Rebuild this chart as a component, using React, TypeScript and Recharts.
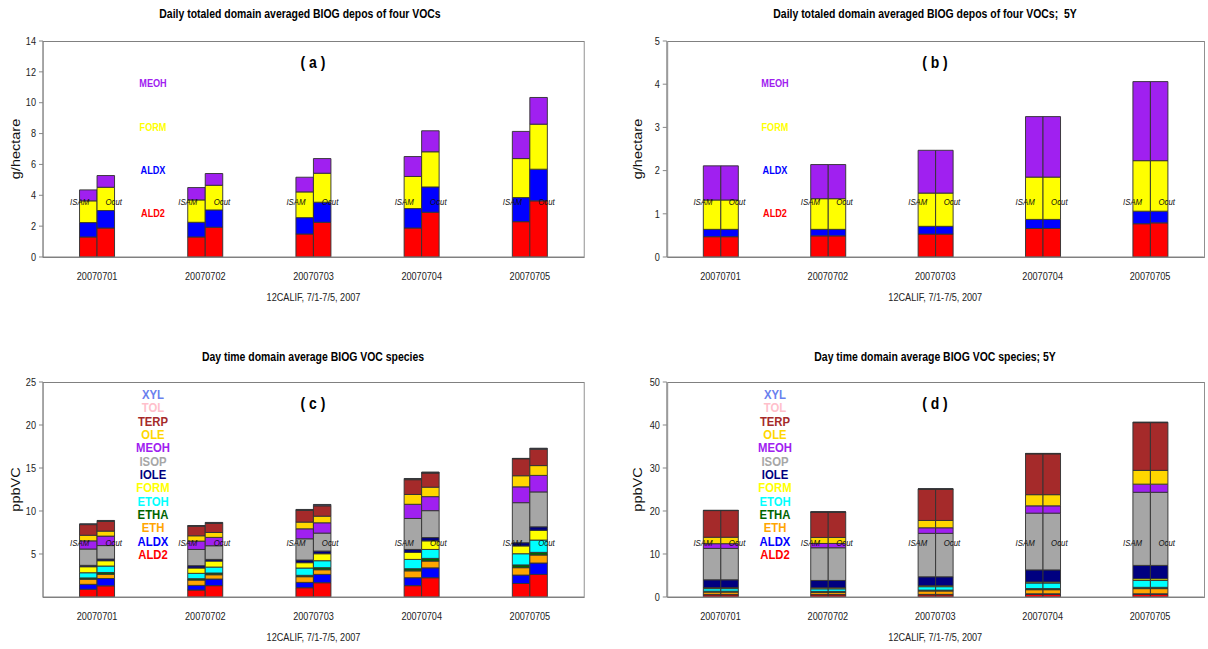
import React from "react";
import { BarChart, Bar, XAxis, YAxis, ReferenceDot } from "recharts";

const FONT = "'Liberation Sans', Arial, sans-serif";
// the source figure is squeezed sideways; draw wider and compress the page
const SQUEEZE = 0.87;
const sx = (v: number) => v / SQUEEZE;

const DATES = ["20070701", "20070702", "20070703", "20070704", "20070705"];

const DEPO_SPECIES = ["ALD2", "ALDX", "FORM", "MEOH"];
const VOC_SPECIES = ["ALD2", "ALDX", "ETH", "ETHA", "ETOH", "FORM", "IOLE", "ISOP", "MEOH", "OLE", "TERP", "TOL", "XYL"];

// rows follow the species order, columns follow DATES
const DEPO_ISAM = [
  [1.3, 1.3, 1.49, 1.88, 2.29],
  [0.93, 0.95, 1.06, 1.26, 1.56],
  [1.41, 1.45, 1.67, 2.08, 2.53],
  [0.71, 0.8, 0.95, 1.29, 1.76],
];
const DEPO_OCUT = [
  [1.88, 1.93, 2.25, 2.9, 3.64],
  [1.13, 1.12, 1.3, 1.64, 2.05],
  [1.51, 1.6, 1.88, 2.28, 2.92],
  [0.76, 0.76, 0.95, 1.36, 1.73],
];

const DEPO5Y_ISAM = [
  [0.47, 0.49, 0.53, 0.66, 0.77],
  [0.17, 0.15, 0.18, 0.21, 0.29],
  [0.68, 0.71, 0.77, 0.98, 1.17],
  [0.79, 0.79, 0.99, 1.4, 1.83],
];
const DEPO5Y_OCUT = [
  [0.47, 0.49, 0.53, 0.66, 0.79],
  [0.17, 0.15, 0.18, 0.21, 0.27],
  [0.68, 0.71, 0.77, 0.98, 1.17],
  [0.79, 0.79, 0.99, 1.4, 1.83],
];

const VOC_ISAM = [
  [0.9, 0.81, 1.08, 1.32, 1.57],
  [0.57, 0.54, 0.62, 0.92, 0.98],
  [0.6, 0.62, 0.66, 0.8, 0.86],
  [0.15, 0.16, 0.16, 0.25, 0.32],
  [0.6, 0.62, 0.85, 1.08, 1.3],
  [0.7, 0.62, 0.62, 0.82, 0.91],
  [0.16, 0.27, 0.31, 0.34, 0.37],
  [1.9, 1.89, 2.47, 3.6, 4.66],
  [0.95, 0.97, 1.16, 1.65, 1.84],
  [0.65, 0.62, 0.78, 1.14, 1.29],
  [1.24, 1.12, 1.35, 1.72, 1.98],
  [0.04, 0.03, 0.06, 0.07, 0.02],
  [0.04, 0.03, 0.06, 0.07, 0.02],
];
const VOC_OCUT = [
  [1.3, 1.32, 1.66, 2.24, 2.63],
  [0.85, 0.77, 0.97, 1.15, 1.32],
  [0.5, 0.5, 0.54, 0.79, 0.93],
  [0.2, 0.2, 0.24, 0.31, 0.31],
  [0.75, 0.69, 0.81, 1.04, 1.43],
  [0.62, 0.7, 0.81, 1.0, 1.14],
  [0.19, 0.19, 0.31, 0.38, 0.4],
  [1.57, 1.59, 2.09, 3.13, 4.06],
  [1.1, 0.97, 1.2, 1.63, 1.92],
  [0.58, 0.57, 0.77, 1.1, 1.14],
  [1.12, 1.05, 1.2, 1.64, 1.9],
  [0.06, 0.06, 0.08, 0.06, 0.06],
  [0.06, 0.06, 0.08, 0.06, 0.06],
];

const VOC5Y_ISAM = [
  [0.5, 0.5, 0.5, 0.6, 0.6],
  [0.1, 0.1, 0.1, 0.15, 0.15],
  [0.55, 0.5, 0.8, 0.95, 1.2],
  [0.2, 0.2, 0.2, 0.25, 0.3],
  [0.6, 0.6, 0.8, 1.3, 1.6],
  [0.25, 0.25, 0.25, 0.25, 0.4],
  [1.8, 1.7, 2.05, 2.8, 3.1],
  [7.3, 7.6, 10.1, 13.2, 17.0],
  [1.1, 1.0, 1.3, 1.7, 1.9],
  [1.5, 1.4, 1.7, 2.6, 3.2],
  [6.2, 5.9, 7.3, 9.5, 11.1],
  [0.03, 0.03, 0.03, 0.05, 0.05],
  [0.02, 0.02, 0.02, 0.05, 0.05],
];
const VOC5Y_OCUT = VOC5Y_ISAM;

const COLORS: Record<string, string> = {
  ALD2: "#ff0000",
  ALDX: "#0000ff",
  ETH: "#ffa500",
  ETHA: "#006400",
  ETOH: "#00ffff",
  FORM: "#ffff00",
  IOLE: "#000080",
  ISOP: "#a6a6a6",
  MEOH: "#a020f0",
  OLE: "#ffd700",
  TERP: "#a52a2a",
  TOL: "#ffc0cb",
  XYL: "#6a80ee",
};

function buildRows(species: string[], isam: number[][], ocut: number[][]) {
  return DATES.map((date, j) => {
    const row: any = { date };
    species.forEach((sp, i) => {
      row["i_" + sp] = isam[i][j];
      row["o_" + sp] = ocut[i][j];
    });
    return row;
  });
}

const CHART_H = 310;
const X_AXIS_H = 53;

function Panel(props: {
  left: number;
  top: number;
  width: number;
  yWidth: number;
  marginTop: number;
  marginRight: number;
  species: string[];
  isam: number[][];
  ocut: number[][];
  yMax: number;
  ticks: number[];
  yLabel: string;
  yLabelX: number;
  markY: number;
}) {
  const rows = buildRows(props.species, props.isam, props.ocut);
  const half = sx(17.5);
  return (
    <div style={{ position: "absolute", left: sx(props.left), top: props.top }}>
      <BarChart
        width={sx(props.width)}
        height={CHART_H}
        data={rows}
        margin={{ top: props.marginTop, right: sx(props.marginRight), left: 0, bottom: 0 }}
        barGap={0}
      >
        <XAxis
          dataKey="date"
          height={X_AXIS_H}
          tickLine={false}
          axisLine={{ stroke: "#808080" }}
          tick={{ fontSize: 10.5, fill: "#222", fontFamily: FONT }}
          tickMargin={10}
          label={{
            value: "12CALIF, 7/1-7/5, 2007",
            position: "insideBottom",
            offset: 9,
            fontSize: 10.5,
            fill: "#222",
            fontFamily: FONT,
          }}
        />
        <YAxis
          width={sx(props.yWidth)}
          domain={[0, props.yMax]}
          ticks={props.ticks}
          interval={0}
          allowDataOverflow
          tickSize={sx(4)}
          tickMargin={sx(3)}
          axisLine={{ stroke: "#808080" }}
          tickLine={{ stroke: "#808080" }}
          tick={{ fontSize: 10.5, fill: "#222", fontFamily: FONT }}
          label={{
            value: props.yLabel,
            angle: -90,
            position: "insideLeft",
            offset: sx(props.yLabelX),
            fontSize: 14.5,
            fill: "#111",
            fontFamily: FONT,
            style: { textAnchor: "middle" },
          }}
        />
        {props.species.map((sp) => (
          <Bar
            key={"i_" + sp}
            dataKey={"i_" + sp}
            stackId="isam"
            fill={COLORS[sp]}
            stroke="#333"
            strokeWidth={1}
            barSize={sx(17.5)}
            isAnimationActive={false}
          />
        ))}
        {props.species.map((sp) => (
          <Bar
            key={"o_" + sp}
            dataKey={"o_" + sp}
            stackId="ocut"
            fill={COLORS[sp]}
            stroke="#333"
            strokeWidth={1}
            barSize={sx(17.5)}
            isAnimationActive={false}
          />
        ))}
        {DATES.map((d) => (
          <ReferenceDot
            key={"m" + d}
            x={d}
            y={props.markY}
            r={0}
            shape={(p: any) => (
              <g>
                <text
                  x={p.cx - half}
                  y={p.cy}
                  textAnchor="middle"
                  dominantBaseline="central"
                  fontSize={9}
                  fontStyle="italic"
                  fontFamily={FONT}
                  fill="#111"
                >
                  ISAM
                </text>
                <text
                  x={p.cx + half - 1}
                  y={p.cy}
                  textAnchor="middle"
                  dominantBaseline="central"
                  fontSize={9}
                  fontStyle="italic"
                  fontFamily={FONT}
                  fill="#111"
                >
                  Ocut
                </text>
              </g>
            )}
          />
        ))}
      </BarChart>
    </div>
  );
}

function Frame({ left, top, width, height }: { left: number; top: number; width: number; height: number }) {
  return (
    <div
      style={{
        position: "absolute",
        left: sx(left),
        top,
        width: sx(width),
        height,
        boxSizing: "border-box",
        border: "1px solid #808080",
        pointerEvents: "none",
      }}
    />
  );
}

function Txt({ x, y, size, color = "#000", bold = true, children }: any) {
  return (
    <div
      style={{
        position: "absolute",
        left: sx(x),
        top: y,
        transform: "translate(-50%, -50%)",
        whiteSpace: "nowrap",
        fontSize: size,
        fontWeight: bold ? "bold" : "normal",
        color,
        fontFamily: FONT,
        lineHeight: 1,
      }}
    >
      {children}
    </div>
  );
}

const DEPO_LEGEND_Y = [213, 170, 127, 83];
const VOC_LEGEND_TOP = 394;
const VOC_LEGEND_STEP = 13.33;

export default function App() {
  return (
    <div
      style={{
        position: "absolute",
        left: 0,
        top: 0,
        width: sx(1208),
        height: 649,
        background: "#fff",
        fontFamily: FONT,
        transform: `scaleX(${SQUEEZE})`,
        transformOrigin: "0 0",
      }}
    >
      <Txt x={300} y={14} size={12}>Daily totaled domain averaged BIOG depos of four VOCs</Txt>
      <Txt x={925} y={14} size={12}>Daily totaled domain averaged BIOG depos of four VOCs;&nbsp; 5Y</Txt>
      <Txt x={313} y={357} size={12}>Day time domain average BIOG VOC species</Txt>
      <Txt x={935} y={357} size={12}>Day time domain average BIOG VOC species; 5Y</Txt>

      <Panel left={0} top={0} width={600} yWidth={43} marginTop={41} marginRight={16}
        species={DEPO_SPECIES} isam={DEPO_ISAM} ocut={DEPO_OCUT}
        yMax={14} ticks={[0, 2, 4, 6, 8, 10, 12, 14]} yLabel="g/hectare" yLabelX={16} markY={3.56} />
      <Panel left={604} top={0} width={604} yWidth={63} marginTop={41} marginRight={4}
        species={DEPO_SPECIES} isam={DEPO5Y_ISAM} ocut={DEPO5Y_OCUT}
        yMax={5} ticks={[0, 1, 2, 3, 4, 5]} yLabel="g/hectare" yLabelX={34} markY={1.27} />
      <Panel left={0} top={340} width={600} yWidth={43} marginTop={42} marginRight={16}
        species={VOC_SPECIES} isam={VOC_ISAM} ocut={VOC_OCUT}
        yMax={25} ticks={[5, 10, 15, 20, 25]} yLabel="ppbVC" yLabelX={16} markY={6.28} />
      <Panel left={604} top={340} width={604} yWidth={63} marginTop={42} marginRight={4}
        species={VOC_SPECIES} isam={VOC5Y_ISAM} ocut={VOC5Y_OCUT}
        yMax={50} ticks={[0, 10, 20, 30, 40, 50]} yLabel="ppbVC" yLabelX={34} markY={12.56} />

      <Frame left={43} top={41} width={542} height={217} />
      <Frame left={667} top={41} width={538} height={217} />
      <Frame left={43} top={382} width={542} height={216} />
      <Frame left={667} top={382} width={538} height={216} />

      <Txt x={313} y={63} size={16}>( a )</Txt>
      <Txt x={935} y={63} size={16}>( b )</Txt>
      <Txt x={313} y={404} size={16}>( c )</Txt>
      <Txt x={935} y={404} size={16}>( d )</Txt>

      {DEPO_SPECIES.map((sp, i) => (
        <React.Fragment key={"dl" + sp}>
          <Txt x={153} y={DEPO_LEGEND_Y[i]} size={10.5} color={COLORS[sp]}>{sp}</Txt>
          <Txt x={775} y={DEPO_LEGEND_Y[i]} size={10.5} color={COLORS[sp]}>{sp}</Txt>
        </React.Fragment>
      ))}
      {VOC_SPECIES.map((sp, i) => {
        const y = VOC_LEGEND_TOP + (VOC_SPECIES.length - 1 - i) * VOC_LEGEND_STEP;
        return (
          <React.Fragment key={"vl" + sp}>
            <Txt x={153} y={y} size={13} color={COLORS[sp]}>{sp}</Txt>
            <Txt x={775} y={y} size={13} color={COLORS[sp]}>{sp}</Txt>
          </React.Fragment>
        );
      })}
    </div>
  );
}
